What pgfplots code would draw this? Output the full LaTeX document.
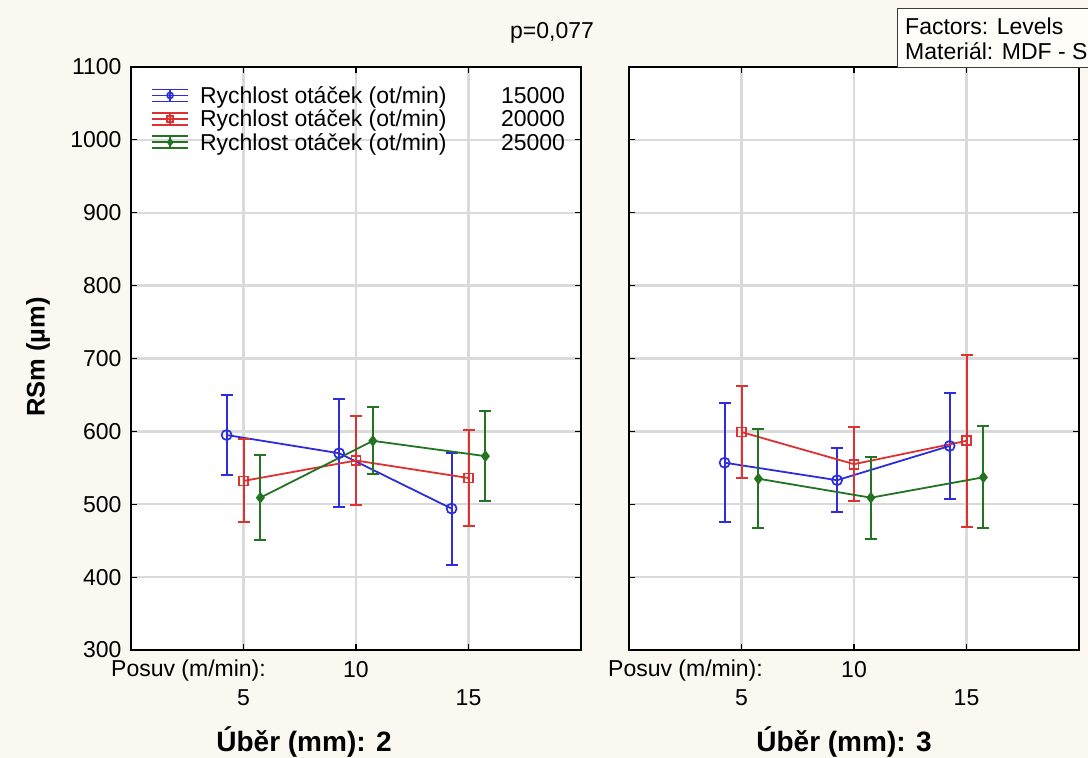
\documentclass[border=0pt]{standalone}
\usepackage{pgfplots}
\pgfplotsset{compat=1.18}
\usepackage{fontspec}
\setmainfont{Liberation Sans}
\definecolor{bgc}{RGB}{251,248,241}
\definecolor{cb}{RGB}{45,45,220}
\definecolor{cr}{RGB}{222,50,50}
\definecolor{cg}{RGB}{35,115,35}
\definecolor{gridc}{RGB}{218,218,218}
\newcommand{\fs}{\fontsize{23}{28}\selectfont}
\pgfplotsset{
 mystyle/.style={
  scale only axis, width=450pt, height=583pt,
  xmin=0, xmax=4, ymin=300, ymax=1100,
  xtick={1,2,3}, ytick={300,400,...,1100},
  grid=major, grid style={gridc, line width=2.4pt}, major grid style={gridc, line width=2.4pt},
  tick align=inside, major tick length=6pt,
  axis line style={line width=1.4pt}, tick style={black, line width=1.1pt},
  axis background/.style={fill=white},
  xticklabels={{\rule{0pt}{16pt}\\5},{\rule{0pt}{16pt}10},{\rule{0pt}{16pt}\\15}},
  xticklabel style={align=center, anchor=north, yshift=-8pt, font=\fs},
  yticklabel style={font=\fs, xshift=-6pt},
  /pgf/number format/assume math mode=true,
  /pgf/number format/set thousands separator={},
 },
 eb/.style={error bars/.cd, y dir=both, y explicit,
   error bar style={/tikz/line width=2pt, /tikz/solid},
   error mark options={rotate=90, mark size=6pt, /tikz/line width=2pt}},
 sb/.style={cb, line width=1.8pt, mark=o, mark size=5pt, mark options={fill=white, line width=1.7pt}},
 sr/.style={cr, line width=1.8pt, mark=square, mark size=4.5pt, mark options={fill=white, line width=1.7pt}},
 sg/.style={cg, line width=1.8pt, mark=diamond*, mark size=4.5pt},
}
\begin{document}
\begin{tikzpicture}[x=1pt,y=1pt]
\useasboundingbox (0,0) rectangle (1088,758);
\fill[bgc] (0,0) rectangle (1088,758);
\begin{axis}[mystyle, at={(131pt,108pt)}, anchor=south west,
  legend style={at={(axis description cs:0,1)}, anchor=north west, xshift=19pt, yshift=-17pt,
    draw=none, fill=none, font=\fs, row sep=3pt, column sep=10pt, inner sep=1pt,
    nodes={inner sep=1pt}},
  legend cell align=left,
  legend image code/.code={
    \draw[#1, mark=none] (0pt,6pt)--(36pt,6pt) (0pt,-6pt)--(36pt,-6pt) (18pt,-6pt)--(18pt,6pt);
    \draw[mark repeat=2, mark phase=2, #1, mark size=3pt] plot coordinates {(0pt,0pt)(18pt,0pt)(36pt,0pt)};
  }]
\addplot[sb, eb] coordinates {(0.85,595)+-(0,55) (1.85,570)+-(0,74) (2.85,494)+-(0,77)};
\addlegendentry{\makebox[365pt][l]{Rychlost otáček (ot/min)\hfill 15000}}
\addplot[sr, eb] coordinates {(1,532)+-(0,57) (2,560)+-(0,61) (3,536)+-(0,66)};
\addlegendentry{\makebox[365pt][l]{Rychlost otáček (ot/min)\hfill 20000}}
\addplot[sg, eb] coordinates {(1.15,509)+-(0,58) (2.15,587)+-(0,46) (3.15,566)+-(0,62)};
\addlegendentry{\makebox[365pt][l]{Rychlost otáček (ot/min)\hfill 25000}}
\end{axis}
\begin{axis}[mystyle, at={(629pt,108pt)}, anchor=south west, yticklabels={}]
\addplot[sb, eb] coordinates {(0.85,557)+-(0,82) (1.85,533)+-(0,44) (2.85,580)+-(0,73)};
\addplot[sr, eb] coordinates {(1,599)+-(0,63) (2,555)+-(0,51) (3,587)+-(0,118)};
\addplot[sg, eb] coordinates {(1.15,535)+-(0,68) (2.15,509)+-(0,56) (3.15,537)+-(0,70)};
\end{axis}
\node[font=\fs] at (552,725) {p=0,077};
\node[font=\fontsize{25.5}{30}\selectfont\bfseries, rotate=90] at (38,401) {RSm (µm)};
\node[font=\fontsize{28}{32}\selectfont\bfseries] at (304,16) {Úběr (mm): 2};
\node[font=\fontsize{28}{32}\selectfont\bfseries] at (844,16) {Úběr (mm): 3};
\node[font=\fs, anchor=east, inner sep=0pt] at (266,87) {Posuv (m/min):};
\node[font=\fs, anchor=east, inner sep=0pt] at (763,87) {Posuv (m/min):};
\draw[line width=1pt, fill={rgb,255:red,255;green,253;blue,247}, draw={rgb,255:red,60;green,60;blue,60}] (897,690) rectangle (1100,749);
\node[font=\fs, anchor=west, inner sep=0pt] at (905,732) {Factors: Levels};
\node[font=\fs, anchor=west, inner sep=0pt] at (905,707) {Materiál: MDF - S};
\end{tikzpicture}
\end{document}
